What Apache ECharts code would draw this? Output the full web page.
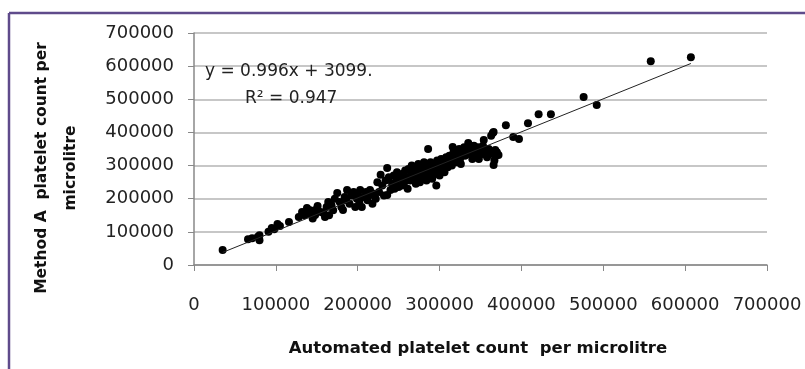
<!DOCTYPE html>
<html>
<head>
<meta charset="utf-8">
<script src="https://cdn.jsdelivr.net/npm/echarts@6/dist/echarts.min.js"></script>
<style>
html,body{margin:0;padding:0;background:#fff;}
#chart{width:805px;height:369px;}
</style>
</head>
<body>
<div id="chart"></div>
<script>
// Automated count (x) vs Method A count (y), per microlitre
var automatedX = [35000,66000,71000,80000,80000,78000,91000,95000,98000,102000,105000,116000,128000,132000,135000,138000,140000,142000,145000,148000,150000,151000,155000,158000,160000,162000,164000,165000,168000,170000,172000,175000,178000,180000,182000,184000,186000,187000,190000,192000,195000,197000,199000,200000,202000,203000,205000,207000,210000,212000,214000,215000,218000,220000,222000,224000,226000,228000,230000,232000,234000,236000,236000,238000,240000,242000,244000,245000,247000,248000,250000,252000,254000,255000,257000,258000,260000,261000,262000,264000,265000,266000,268000,270000,271000,272000,274000,275000,276000,278000,279000,280000,281000,282000,283000,284000,285000,286000,287000,288000,289000,290000,291000,292000,293000,294000,295000,296000,297000,298000,299000,300000,301000,302000,304000,305000,306000,308000,309000,310000,312000,313000,315000,316000,317000,318000,320000,321000,322000,324000,325000,326000,328000,330000,331000,333000,335000,336000,338000,340000,341000,342000,344000,345000,347000,348000,350000,352000,353000,354000,356000,358000,360000,362000,363000,365000,366000,366000,367000,368000,369000,370000,372000,381000,390000,397000,408000,421000,436000,476000,492000,558000,607000];
var methodAY = [45000,78000,81000,75000,90000,85000,100000,112000,108000,124000,118000,130000,145000,160000,150000,172000,155000,165000,140000,151000,170000,178000,160000,157000,145000,175000,190000,150000,180000,165000,200000,217000,190000,175000,166000,205000,195000,226000,185000,210000,220000,175000,200000,215000,190000,226000,175000,205000,220000,195000,210000,226000,185000,215000,200000,250000,220000,272000,240000,210000,255000,293000,211000,265000,226000,245000,270000,230000,255000,280000,235000,260000,240000,275000,250000,285000,265000,230000,290000,255000,270000,300000,278000,260000,245000,290000,305000,270000,250000,285000,300000,265000,310000,275000,295000,255000,285000,350000,300000,270000,310000,290000,260000,280000,305000,295000,275000,240000,315000,285000,300000,270000,310000,320000,290000,300000,280000,325000,305000,295000,330000,315000,300000,356000,340000,320000,310000,345000,330000,350000,320000,305000,340000,355000,330000,345000,368000,335000,355000,320000,345000,360000,340000,330000,355000,320000,345000,335000,360000,377000,340000,325000,350000,335000,390000,398000,401000,302000,315000,347000,330000,340000,332000,422000,386000,380000,428000,455000,455000,507000,483000,615000,627000];
// trend line end points (y = 0.996x + 3099)
var trendX = [35000, 607000];
var trendY = [38000, 608000];
var axisTicks = [0,100000,200000,300000,400000,500000,600000,700000];
var equationText = 'y = 0.996x + 3099.';
var r2Text = 'R\u00b2 = 0.947';
var xTitle = 'Automated platelet count  per microlitre';
var yTitle = ['Method A  platelet count per', 'microlitre'];

var points = automatedX.map(function(x,i){return [x, methodAY[i]];});
var trend = trendX.map(function(x,i){return [x, trendY[i]];});
function plain(v){return String(v);}

var chart = echarts.init(document.getElementById('chart'), null, {renderer:'canvas'});
var font = 'DejaVu Sans';
chart.setOption({
  animation:false,
  backgroundColor:'#fff',
  grid:{left:194,right:38,top:33,bottom:104},
  xAxis:{
    type:'value',min:axisTicks[0],max:axisTicks[axisTicks.length-1],interval:100000,
    axisLine:{lineStyle:{color:'#888',width:1.5}},
    axisTick:{show:true,inside:false,length:6,lineStyle:{color:'#888'}},
    axisLabel:{margin:31,color:'#222',fontFamily:font,fontSize:18,formatter:plain},
    splitLine:{show:false}
  },
  yAxis:{
    type:'value',min:axisTicks[0],max:axisTicks[axisTicks.length-1],interval:100000,
    axisLine:{show:true,lineStyle:{color:'#888',width:1.5}},
    axisTick:{show:true,inside:false,length:6,lineStyle:{color:'#888'}},
    axisLabel:{margin:20,color:'#222',fontFamily:font,fontSize:18,formatter:plain},
    splitLine:{show:true,lineStyle:{color:'#b4b4b4',width:1.5}}
  },
  series:[
    {type:'scatter',data:points,symbol:'circle',symbolSize:8,itemStyle:{color:'#000',opacity:1},z:3},
    {type:'line',data:trend,symbol:'none',lineStyle:{color:'#222',width:1},z:4}
  ],
  graphic:[
    {type:'line',shape:{x1:9,y1:13,x2:805,y2:13},style:{stroke:'#5f4b8b',lineWidth:2.5}},
    {type:'line',shape:{x1:9,y1:13,x2:9,y2:369},style:{stroke:'#5f4b8b',lineWidth:2.5}},
    {type:'text',left:205,top:63,style:{text:equationText,font:'17px "DejaVu Sans"',fill:'#222'},z:10},
    {type:'text',left:245,top:90,style:{text:r2Text,font:'17px "DejaVu Sans"',fill:'#222'},z:10},
    {type:'text',x:478,y:349,style:{text:xTitle,font:'bold 16.5px "DejaVu Sans"',fill:'#111',textAlign:'center',textVerticalAlign:'middle'},z:10},
    {type:'text',x:56,y:168,rotation:Math.PI/2,style:{text:yTitle.join('\n'),font:'bold 15.5px "DejaVu Sans"',fill:'#111',textAlign:'center',textVerticalAlign:'middle',lineHeight:29},z:10}
  ]
});
</script>
</body>
</html>
